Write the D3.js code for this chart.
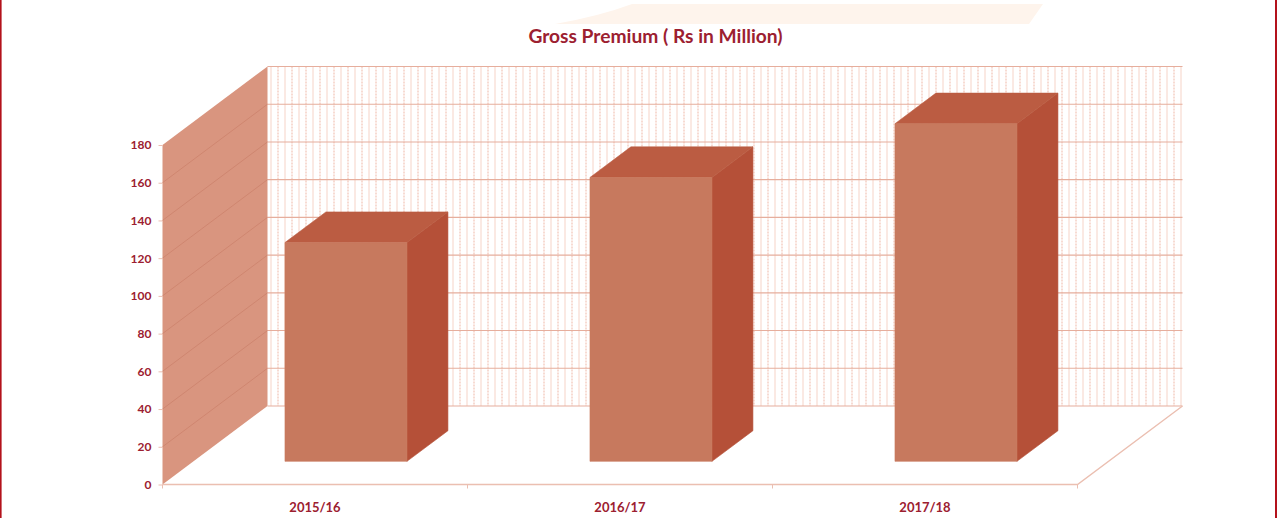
<!DOCTYPE html>
<html>
<head>
<meta charset="utf-8">
<script src="https://cdn.jsdelivr.net/npm/d3@7/dist/d3.min.js"></script>
<style>
  html, body { margin: 0; padding: 0; background: #fff; }
  svg { display: block; }
  text { font-family: Lato, "Open Sans", sans-serif; font-weight: 700; }
</style>
</head>
<body>
<script>
// Gross premium by fiscal year
const categories = ["2015/16", "2016/17", "2017/18"];
const premiums = [116, 150.5, 179];
const yTicks = [0, 20, 40, 60, 80, 100, 120, 140, 160, 180];
const chartTitle = "Gross Premium ( Rs in Million)";

const width = 1277, height = 518;
const textColor = "#9c2030", frameColor = "#b3121c";

const svg = d3.select("body").append("svg").attr("width", width).attr("height", height);

// Front plane scales; the depth axis maps 0..1 onto a fixed oblique shift
const x = d3.scaleBand().domain(categories).range([162.5, 1077.5]).paddingInner(0.6).paddingOuter(0.3);
const band = d3.scaleBand().domain(categories).range([162.5, 1077.5]);
const y = d3.scaleLinear().domain([0, 180]).range([484.5, 145]);
const depthX = d3.scaleLinear().domain([0, 1]).range([0, 105]);
const depthY = d3.scaleLinear().domain([0, 1]).range([0, -78.5]);
const pt = (px, py, d) => [px + depthX(d), py + depthY(d)];
const poly = pts => pts.map(p => p.join(",")).join(" ");
const [left, right] = band.range();

// Page frame and decorative banner
svg.append("rect").attr("x", 0).attr("y", 0).attr("width", 1.6).attr("height", height).attr("fill", frameColor);
svg.append("rect").attr("x", 1275).attr("y", 0).attr("width", 2).attr("height", height).attr("fill", frameColor);
svg.append("path")
  .attr("d", "M555,24 Q600,16 632,4 L1043,4 L1029,24 Z")
  .attr("fill", "#fef4ec");

svg.append("text").attr("x", 655.5).attr("y", 43).attr("text-anchor", "middle")
  .attr("font-size", 19.2).attr("fill", textColor).text(chartTitle);

// Back wall with fine vertical and horizontal hatching
const [backL, backT] = pt(left, y(180), 1);
const [backR] = pt(right, y(0), 1);
const backB = pt(left, y(0), 1)[1];
const back = svg.append("g");
const fineX = d3.range(backL + 3.5, backR, 7);
back.selectAll("line.vfine").data(fineX).join("line").attr("class", "vfine")
  .attr("x1", d => d).attr("x2", d => d).attr("y1", backT).attr("y2", backB)
  .attr("stroke", (d, i) => i % 2 ? "#efb7a6" : "#f6d3c7").attr("stroke-width", 1)
  .attr("stroke-dasharray", (d, i) => i % 2 ? "2,1" : null);
back.selectAll("line.hgrid").data(yTicks).join("line").attr("class", "hgrid")
  .attr("x1", backL).attr("x2", backR)
  .attr("y1", d => pt(0, y(d), 1)[1]).attr("y2", d => pt(0, y(d), 1)[1])
  .attr("stroke", "#e6ae9d").attr("stroke-width", 1.1);

// Side wall
svg.append("polygon")
  .attr("points", poly([pt(left, y(0), 0), pt(left, y(180), 0), pt(left, y(180), 1), pt(left, y(0), 1)]))
  .attr("fill", "#d9957f");
svg.selectAll("line.wall").data(yTicks.slice(1, -1)).join("line").attr("class", "wall")
  .attr("x1", pt(left, 0, 0)[0]).attr("x2", pt(left, 0, 1)[0])
  .attr("y1", d => pt(left, y(d), 0)[1]).attr("y2", d => pt(left, y(d), 1)[1])
  .attr("stroke", "#cf8670").attr("stroke-width", 1);

// Floor edges and axis ticks
const edge = "#ebbfb1";
svg.append("polyline")
  .attr("points", poly([pt(left, y(0), 0), pt(right, y(0), 0), pt(right, y(0), 1)]))
  .attr("fill", "none").attr("stroke", edge).attr("stroke-width", 1.4);

const yAxis = d3.axisLeft(y).tickValues(yTicks).tickSize(4).tickPadding(7);
const yG = svg.append("g").attr("transform", `translate(${left},0)`).call(yAxis);
yG.select(".domain").remove();
yG.selectAll(".tick line").attr("stroke", edge);
yG.selectAll("text").attr("font-size", 12).attr("font-family", null).attr("fill", textColor);

const xAxis = d3.axisBottom(band).tickSize(0).tickPadding(18.5);
const xG = svg.append("g").attr("transform", `translate(0,${y(0)})`).call(xAxis);
xG.select(".domain").remove();
xG.selectAll("text").attr("font-size", 13).attr("font-family", null).attr("fill", textColor);
svg.selectAll("line.xtick").data(d3.range(categories.length + 1)).join("line").attr("class", "xtick")
  .attr("x1", i => left + i * band.step()).attr("x2", i => left + i * band.step())
  .attr("y1", y(0)).attr("y2", y(0) + 4).attr("stroke", edge);

// Bars: side, top and front faces, stroked in their own fill to close the seams
const dFront = 0.295, dBack = 0.685;
const bars = svg.selectAll("g.bar").data(categories.map((c, i) => ({ c, v: premiums[i] }))).join("g").attr("class", "bar");
bars.append("polygon").attr("fill", "#b55038").attr("stroke", "#b55038").attr("stroke-width", 0.6)
  .attr("points", d => {
    const r = x(d.c) + x.bandwidth();
    return poly([pt(r, y(0), dFront), pt(r, y(d.v), dFront), pt(r, y(d.v), dBack), pt(r, y(0), dBack)]);
  });
bars.append("polygon").attr("fill", "#bb5c42").attr("stroke", "#bb5c42").attr("stroke-width", 0.6)
  .attr("points", d => {
    const l = x(d.c), r = l + x.bandwidth();
    return poly([pt(l, y(d.v), dFront), pt(r, y(d.v), dFront), pt(r, y(d.v), dBack), pt(l, y(d.v), dBack)]);
  });
bars.append("polygon").attr("fill", "#c7795e").attr("stroke", "#c7795e").attr("stroke-width", 0.6)
  .attr("points", d => {
    const l = x(d.c), r = l + x.bandwidth();
    return poly([pt(l, y(0), dFront), pt(r, y(0), dFront), pt(r, y(d.v), dFront), pt(l, y(d.v), dFront)]);
  });
</script>
</body>
</html>
